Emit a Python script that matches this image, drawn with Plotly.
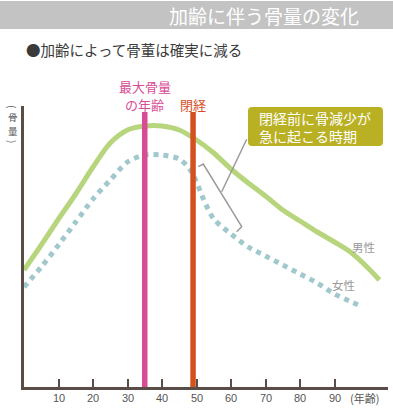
import plotly.graph_objects as go

# ---- data ----
male_age = [0, 5, 10, 15, 20, 25, 30, 35, 40, 45, 50, 55, 60, 65, 70, 75, 80, 85, 90, 95, 100, 103]
male_bone = [117, 142, 168, 193, 220, 244, 257, 261, 261, 257, 247, 234, 218, 204, 191, 177, 166, 155, 145, 134, 118, 107]

female_age = [0, 5, 10, 15, 20, 25, 30, 35, 40, 45, 48, 50, 52, 55, 60, 65, 70, 75, 80, 85, 90, 95, 97]
female_bone = [100, 120, 142, 165, 188, 207, 225, 232, 232, 228, 218, 205, 188, 168, 153, 140, 131, 122, 113, 104, 93, 85, 82]

peak_age = 35
menopause_age = 49
marker_top = 275

x_ticks = [10, 20, 30, 40, 50, 60, 70, 80, 90]
x_tick_labels = ["10", "20", "30", "40", "50", "60", "70", "80", "90"]

FONT = "Noto Sans CJK JP"
AXIS_COLOR = "#5a4d48"
GREEN = "#b6d57c"
TEAL = "#a0c8cd"
PINK = "#d84b95"
ORANGE = "#d5501f"
OLIVE = "#b9b123"

fig = go.Figure()

fig.add_trace(go.Scatter(x=male_age, y=male_bone, mode="lines",
                         line=dict(color=GREEN, width=5, shape="spline", smoothing=0.8),
                         hoverinfo="skip", showlegend=False))
fig.add_trace(go.Scatter(x=female_age, y=female_bone, mode="lines",
                         line=dict(color=TEAL, width=5, dash="dot", shape="spline", smoothing=0.8),
                         hoverinfo="skip", showlegend=False))
fig.add_trace(go.Scatter(x=[peak_age, peak_age], y=[0, marker_top], mode="lines",
                         line=dict(color=PINK, width=5.5), hoverinfo="skip", showlegend=False))
fig.add_trace(go.Scatter(x=[menopause_age, menopause_age], y=[0, marker_top], mode="lines",
                         line=dict(color=ORANGE, width=5.5), hoverinfo="skip", showlegend=False))

W, H = 393, 410
L, R, T, B = 24, 5, 106, 23
PW, PH = W - L - R, H - T - B


def px(xp):
    return (xp - L) / PW


def py(yp):
    return (H - B - yp) / PH


shapes = []
# title band
shapes.append(dict(type="rect", xref="paper", yref="paper",
                   x0=px(0), x1=px(W), y0=py(29), y1=py(1),
                   fillcolor="#c3c3c3", line=dict(width=0), layer="below"))
# callout rounded box
bx0, bx1, by0, by1 = px(248), px(383), py(146), py(107)
rx, ry = 4 / PW, 4 / PH
path = (f"M {bx0+rx},{by1} L {bx1-rx},{by1} Q {bx1},{by1} {bx1},{by1-ry} "
        f"L {bx1},{by0+ry} Q {bx1},{by0} {bx1-rx},{by0} L {bx0+rx},{by0} "
        f"Q {bx0},{by0} {bx0},{by0+ry} L {bx0},{by1-ry} Q {bx0},{by1} {bx0+rx},{by1} Z")
shapes.append(dict(type="path", xref="paper", yref="paper", path=path,
                   fillcolor=OLIVE, line=dict(width=0)))
# bracket
bp = [(198.3, 166.7), (203.3, 164), (241.7, 226.7), (236.7, 231.7)]
bpath = "M " + " L ".join(f"{px(a)},{py(b)}" for a, b in bp)
shapes.append(dict(type="path", xref="paper", yref="paper", path=bpath,
                   line=dict(color="#9a9a9a", width=1.5)))
# pointer
shapes.append(dict(type="line", xref="paper", yref="paper",
                   x0=px(221.7), y0=py(191.7), x1=px(246.7), y1=py(139.3),
                   line=dict(color="#9a9a9a", width=1.5)))


def ann(text, x, y, size, color, xref="paper", xanchor="center", **kw):
    d = dict(text=text, xref=xref, yref="paper", x=x, y=y, xanchor=xanchor,
             yanchor="middle", showarrow=False,
             font=dict(family=kw.pop("family", FONT), size=size, color=color))
    d.update(kw)
    return d


annotations = [
    ann("加齢に伴う骨量の変化", px(361), py(15), 19, "white", xanchor="right"),
    ann("●加齢によって骨董は確実に減る", px(24), py(50), 14.5, "#3a3a3a", xanchor="left"),
    ann("最大骨量", peak_age, py(86), 13, PINK, xref="x"),
    ann("の年齢", peak_age, py(104.5), 13, PINK, xref="x"),
    ann("閉経", menopause_age, py(104.5), 13, ORANGE, xref="x"),
    ann("閉経前に骨減少が<br>急に起こる時期", px(257), py(126.5), 14, "white",
        xanchor="left", align="left"),
    ann("男性", px(363), py(247), 11.5, "#999999"),
    ann("女性", px(343), py(285), 11.5, "#999999"),
    ann("(年齢)", px(364), py(398), 11, "#555555"),
    # vertical y-axis label
    ann("(", px(13), py(106), 10, "#555555", textangle=90),
    ann("骨", px(13), py(116.5), 9.5, "#555555"),
    ann("量", px(13), py(130.5), 9.5, "#555555"),
    ann(")", px(13), py(141), 10, "#555555", textangle=90),
]
# x tick labels placed just under the axis
for v, t in zip(x_ticks, x_tick_labels):
    annotations.append(ann(t, v, py(398), 11, "#555555", xref="x", family="Liberation Sans"))

fig.update_layout(
    width=W, height=H,
    margin=dict(l=L, r=R, t=T, b=B),
    paper_bgcolor="white", plot_bgcolor="white",
    shapes=shapes, annotations=annotations,
    showlegend=False,
    xaxis=dict(range=[0, PW / 3.45], showgrid=False, zeroline=False,
               showline=True, linecolor=AXIS_COLOR, linewidth=2.5,
               tickmode="array", tickvals=x_ticks, ticktext=x_tick_labels,
               showticklabels=False,
               ticks="inside", ticklen=8, tickwidth=2, tickcolor=AXIS_COLOR,
               fixedrange=True),
    yaxis=dict(range=[0, PH], showgrid=False, zeroline=False,
               showline=True, linecolor=AXIS_COLOR, linewidth=2.5,
               showticklabels=False, ticks="", fixedrange=True),
)

fig.write_html("out.html", config={"displayModeBar": False},
               post_script="document.body.style.margin='0';document.body.style.padding='0';")
